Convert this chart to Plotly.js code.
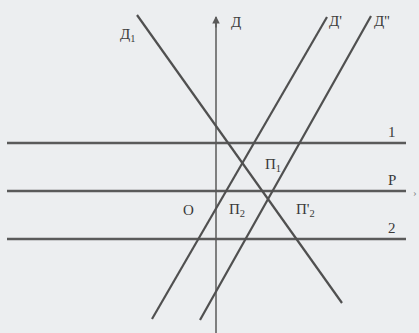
<!DOCTYPE html>
<html>
<head>
<meta charset="utf-8">
<script src="https://cdn.plot.ly/plotly-3.0.1.min.js"></script>
<style>
  html, body { margin: 0; padding: 0; background: #eceef0; }
  #chart { width: 419px; height: 333px; }
</style>
</head>
<body>
<div id="chart"></div>
<script>
// price levels (horizontal lines): 1, P (axis), 2
var levelNames = ['1', 'P', '2'];
var levelValues = [2.4, 0, -2.4];
var levelStart = -10.45;
var levelEnd = 9.5;

// curves, each given by its two end points
var curveNames = ['Д<sub>1</sub>', "Д'", "Д''"];
var curveX = [[-3.95, 6.3], [5.55, -3.2], [7.75, -0.8]];
var curveY = [[8.8, -5.6], [8.7, -6.4], [8.75, -6.45]];

// vertical axis
var axisBottom = -7.1;
var axisTop = 8.7;

// text labels in the picture
var labelText = ['Д<sub>1</sub>', 'Д', "Д'", "Д''", '1', 'P', '2', 'П<sub>1</sub>', 'О', 'П<sub>2</sub>', "П'<sub>2</sub>"];
var labelX = [-4.45, 1.0, 5.95, 8.3, 8.8, 8.8, 8.8, 2.85, -1.4, 1.05, 4.45];
var labelY = [7.8, 8.45, 8.5, 8.5, 2.95, 0.55, -1.85, 1.3, -0.95, -0.95, -0.95];

var ink = '#505050';
var data = [];

levelValues.forEach(function(v, i) {
  data.push({
    x: [levelStart, levelEnd],
    y: [v, v],
    mode: 'lines',
    name: levelNames[i],
    line: {color: '#5a5a5a', width: 2.5},
    hoverinfo: 'skip'
  });
});

data.push({
  x: [0, 0],
  y: [axisBottom, axisTop],
  mode: 'lines',
  name: 'Д',
  line: {color: '#5a5a5a', width: 1.5},
  hoverinfo: 'skip'
});

curveNames.forEach(function(n, i) {
  data.push({
    x: curveX[i],
    y: curveY[i],
    mode: 'lines',
    name: n,
    line: {color: ink, width: 2.2},
    hoverinfo: 'skip'
  });
});

var annotations = labelText.map(function(t, i) {
  return {
    x: labelX[i], y: labelY[i], xref: 'x', yref: 'y',
    text: t, showarrow: false,
    font: {family: 'Liberation Serif, DejaVu Serif, serif', size: 15, color: '#3a3a3a'}
  };
});

// arrow tip on the vertical axis
annotations.push({
  x: 0, y: axisTop + 0.05, xref: 'x', yref: 'y',
  ax: 0, ay: axisTop - 0.6, axref: 'x', ayref: 'y',
  text: '', showarrow: true, arrowhead: 2, arrowsize: 1, arrowwidth: 1.5,
  arrowcolor: '#5a5a5a'
});
// small mark at the end of the P axis
annotations.push({
  x: 9.95, y: -0.05, xref: 'x', yref: 'y',
  text: '›', showarrow: false,
  font: {family: 'Liberation Serif, serif', size: 11, color: '#8a8a8a'}
});

var layout = {
  width: 419,
  height: 333,
  margin: {l: 0, r: 0, t: 0, b: 0},
  paper_bgcolor: '#eceef0',
  plot_bgcolor: '#eceef0',
  showlegend: false,
  xaxis: {range: [-10.8, 10.15], visible: false, fixedrange: true},
  yaxis: {range: [-7.1, 9.55], visible: false, fixedrange: true},
  annotations: annotations
};

Plotly.newPlot('chart', data, layout, {displayModeBar: false, staticPlot: true});
</script>
</body>
</html>
